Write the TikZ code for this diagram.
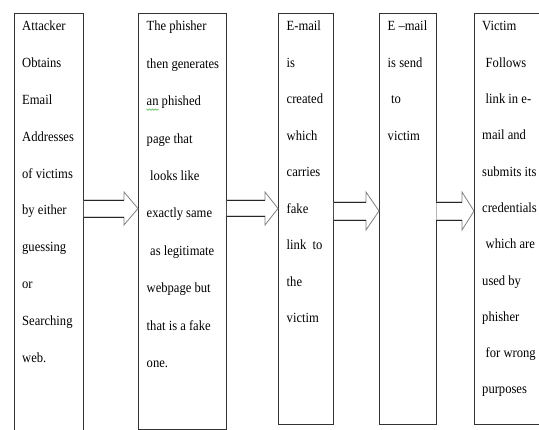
\documentclass[tikz,border=0pt]{standalone}
\usepackage{fontspec}
\setmainfont{Liberation Serif}[FakeStretch=0.9]
\usetikzlibrary{calc}
\tikzset{
  box/.style={draw=black!80, line width=0.8pt, fill=white, anchor=north west, inner sep=0pt, rectangle},
  txt/.style={anchor=base west, inner sep=0pt, font=\fontsize{14}{16}\selectfont, text=black},
  arrline/.style={draw=black!50, line width=0.8pt, fill=white, line join=miter},
  shaftline/.style={draw=black!85, line width=0.8pt},
}
\newcommand\ind{\hspace*{3.5pt}}
\begin{document}
\begin{tikzpicture}[x=1pt, y=-1pt]
\useasboundingbox (0,0) rectangle (539,430);
\clip (0,0) rectangle (539,430);
\fill[white] (0,0) rectangle (539,430);
% boxes
\node[box, minimum width=69pt, minimum height=430pt] (b1) at (14,13) {};
\node[box, minimum width=88pt, minimum height=416pt] (b2) at (138,13) {};
\node[box, minimum width=55pt, minimum height=411.5pt] (b3) at (278,13) {};
\node[box, minimum width=56.5pt, minimum height=411.5pt] (b4) at (379,13) {};
\node[box, minimum width=80pt, minimum height=411pt] (b5) at (474,13) {};
% block arrows
\foreach \s/\e/\st/\sb/\ht/\hb/\hl/\n in {b1/b2/200/217/192/225/14/1, b2/b3/200/216/192/225/13/2, b3/b4/202/220/192/230/13/3, b4/b5/202/220/192/230/12/4}{
  \draw[arrline] (\s.east |- 0,\st) -- ($(\e.west |- 0,\st)+(-\hl,0)$) -- ($(\e.west |- 0,\ht)+(-\hl,0)$)
    -- (\e.west |- 0,{(\ht+\hb)/2}) -- ($(\e.west |- 0,\hb)+(-\hl,0)$) -- ($(\e.west |- 0,\sb)+(-\hl,0)$) -- (\s.east |- 0,\sb);
  \draw[shaftline] (\s.east |- 0,\st) -- ($(\e.west |- 0,\st)+(-\hl,0)$);
  \draw[shaftline] (\s.east |- 0,\sb) -- ($(\e.west |- 0,\sb)+(-\hl,0)$);
}
% texts
\foreach \t [count=\i] in {Attacker, Obtains, Email, Addresses, of victims, by either, guessing, or, Searching, web.}{
  \node[txt] (t1-\i) at ($(b1.north west)+(8,{18+36.8*(\i-1)})$) {\t};
}
\foreach \t [count=\i] in {The phisher, then generates, an phished, page that, \ind looks like, exactly same, \ind as legitimate, webpage but, that is a fake, one.}{
  \node[txt] (t2-\i) at ($(b2.north west)+(8.5,{18+37.4*(\i-1)})$) {\t};
}
\foreach \t [count=\i] in {E-mail, is, created, which, carries, fake, link\ \ to, the, victim}{
  \node[txt] (t3-\i) at ($(b3.north west)+(8.5,{18+36.5*(\i-1)})$) {\t};
}
\foreach \t [count=\i] in {E –mail, is send, \ind to, victim}{
  \node[txt] (t4-\i) at ($(b4.north west)+(8.5,{18+36.5*(\i-1)})$) {\t};
}
\foreach \t [count=\i] in {Victim, \ind Follows, \ind link in e-, mail and, submits its, credentials, \ind which are, used by, phisher, \ind for wrong, purposes}{
  \node[txt] (t5-\i) at ($(b5.north west)+(8,{18+36.3*(\i-1)})$) {\t};
}
% grammar-check squiggle under "an"
\draw[green!60!black, line width=0.4pt] ($(t2-3.base west)+(0,3)$) -- ++(1.5,1.5) -- ++(1.5,-1.5) -- ++(1.5,1.5) -- ++(1.5,-1.5) -- ++(1.5,1.5) -- ++(1.5,-1.5) -- ++(1.5,1.5) -- ++(1.5,-1.5);
\end{tikzpicture}
\end{document}
